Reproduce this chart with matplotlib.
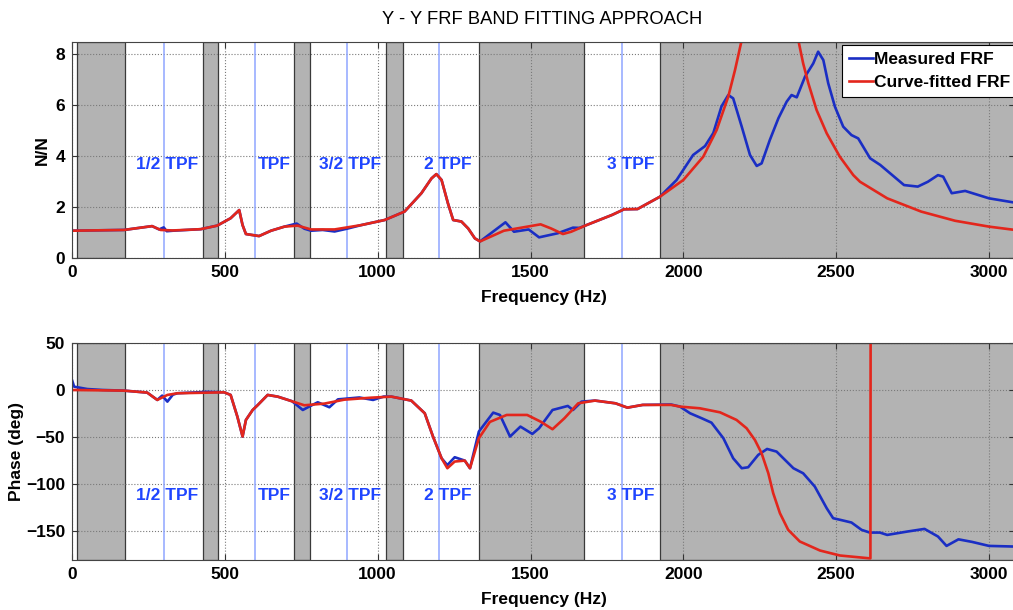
import numpy as np
import matplotlib
matplotlib.use("Agg")
import matplotlib.pyplot as plt

plt.rcParams['font.family'] = ['Liberation Sans', 'DejaVu Sans']

# ---- data ----
# magnitude (N/N)
mag_meas_f = [0, 170, 262, 285, 300, 310, 330, 421, 475, 519, 547, 558, 569, 612, 651, 695,
              735, 760, 782, 820, 859, 900, 946, 1023, 1088, 1143, 1176, 1192, 1209, 1230,
              1247, 1274, 1296, 1318, 1335, 1418, 1446, 1494, 1528, 1589, 1639, 1660, 1683,
              1767, 1806, 1850, 1923, 1978, 2032, 2071, 2098, 2125, 2147, 2163, 2191, 2218,
              2240, 2256, 2283, 2311, 2338, 2354, 2371, 2398, 2425, 2441, 2458, 2474, 2496,
              2523, 2550, 2572, 2611, 2644, 2722, 2767, 2800, 2833, 2850, 2878, 2922, 3000, 3085]
mag_meas = [1.07, 1.10, 1.25, 1.12, 1.20, 1.05, 1.07, 1.13, 1.27, 1.56, 1.88, 1.29, 0.94, 0.86,
            1.07, 1.23, 1.35, 1.15, 1.07, 1.10, 1.04, 1.15, 1.29, 1.49, 1.82, 2.54, 3.12, 3.29,
            3.06, 2.14, 1.49, 1.43, 1.16, 0.77, 0.65, 1.40, 1.03, 1.12, 0.81, 0.97, 1.19, 1.18,
            1.29, 1.69, 1.91, 1.92, 2.40, 3.06, 4.04, 4.39, 4.90, 5.95, 6.39, 6.26, 5.15, 4.04,
            3.61, 3.71, 4.63, 5.48, 6.13, 6.39, 6.30, 7.11, 7.63, 8.09, 7.76, 6.85, 5.93, 5.15,
            4.82, 4.69, 3.91, 3.65, 2.86, 2.80, 2.99, 3.25, 3.19, 2.54, 2.63, 2.34, 2.17]

mag_fit_f = [0, 170, 262, 290, 330, 421, 475, 519, 547, 558, 569, 612, 651, 695, 738, 782, 859,
             946, 1023, 1088, 1143, 1176, 1192, 1209, 1230, 1247, 1274, 1296, 1318, 1335, 1413,
             1533, 1567, 1606, 1633, 1683, 1767, 1806, 1850, 1923, 2000, 2065, 2109, 2147, 2169,
             2191, 2210, 2250, 2280, 2320, 2355, 2376, 2392, 2409, 2436, 2469, 2512, 2556, 2578,
             2667, 2778, 2889, 3000, 3085]
mag_fit = [1.07, 1.10, 1.25, 1.10, 1.08, 1.13, 1.27, 1.56, 1.88, 1.29, 0.94, 0.86, 1.07, 1.23,
           1.27, 1.12, 1.12, 1.29, 1.49, 1.82, 2.54, 3.12, 3.29, 3.06, 2.14, 1.49, 1.43, 1.16,
           0.77, 0.65, 1.07, 1.32, 1.16, 0.94, 1.03, 1.29, 1.69, 1.91, 1.92, 2.40, 3.06, 3.97,
           5.02, 6.33, 7.37, 8.55, 11.0, 20.0, 35.0, 20.0, 11.0, 8.55, 7.63, 6.85, 5.80, 4.89,
           3.97, 3.25, 2.99, 2.34, 1.82, 1.46, 1.23, 1.10]

# phase (deg)
ph_meas_f = [0, 7, 50, 100, 170, 246, 279, 295, 312, 330, 345, 440, 498, 519, 541, 558, 569,
             591, 607, 640, 673, 720, 755, 780, 804, 842, 870, 940, 985, 1020, 1045, 1110, 1154,
             1181, 1209, 1228, 1252, 1285, 1302, 1331, 1378, 1400, 1433, 1467, 1506, 1528, 1572,
             1622, 1639, 1667, 1711, 1778, 1817, 1867, 1960, 1989, 2022, 2060, 2092, 2131, 2163,
             2191, 2212, 2245, 2274, 2305, 2360, 2392, 2430, 2469, 2490, 2523, 2550, 2583, 2610,
             2643, 2667, 2733, 2789, 2833, 2861, 2900, 2944, 3000, 3085]
ph_meas = [10.6, 3.5, 1, 0, -0.7, -2.8, -10.6, -6, -12.4, -5, -3.5, -2, -2.5, -5.3, -28.4,
           -49.6, -31.9, -21.3, -16.3, -5.3, -7.1, -12, -21.3, -17, -13.1, -18.4, -10, -8,
           -10.6, -7, -7.1, -11.3, -24.8, -49.6, -72.7, -80, -71.6, -75.2, -83.3, -44.3, -24.1,
           -26.6, -49.6, -39, -46.8, -40.8, -21.3, -17, -21.3, -12.4, -11.3, -14.2, -18.8,
           -15.9, -15.5, -17.7, -24.8, -30.1, -34.8, -51.4, -72.7, -83.3, -82.3, -69.1, -62.8,
           -65.6, -83.3, -88.7, -102.8, -125.9, -136.5, -139, -141.1, -148.9, -151.8, -151.8,
           -154.3, -150.7, -147.9, -156, -166, -159, -161.7, -166, -166.7]

ph_fit_f = [0, 170, 246, 279, 312, 345, 498, 519, 541, 558, 569, 591, 607, 640, 673, 760, 826,
            891, 979, 1045, 1110, 1154, 1181, 1209, 1228, 1252, 1285, 1302, 1331, 1367, 1422,
            1489, 1533, 1572, 1611, 1656, 1711, 1778, 1817, 1867, 1960, 1989, 2054, 2120, 2174,
            2207, 2234, 2256, 2278, 2294, 2316, 2343, 2381, 2447, 2512, 2612, 2613, 3085]
ph_fit = [0, -0.7, -2.8, -10.6, -5.3, -3.5, -2.5, -5.3, -28.4, -49.6, -31.9, -21.3, -16.3,
          -5.3, -7.1, -16.3, -14.5, -10.3, -8.2, -7.1, -11.3, -24.8, -49.6, -72.7, -83.3, -76.2,
          -75.2, -83.3, -51.4, -34, -26.6, -26.6, -33.7, -41.8, -30.1, -14.2, -11.3, -14.2,
          -18.8, -15.9, -15.9, -17.7, -19.5, -23.8, -31.9, -40.8, -53.2, -67.4, -88.7, -109.9,
          -131.2, -148.9, -161.3, -170.9, -176.2, -179.3, 179, 175]

# fitting bands (Hz) and tooth-pass-frequency markers
bands = [(15, 173), (427, 477), (726, 778), (1028, 1083), (1331, 1676), (1922, 3200)]
tpf_lines = [300, 600, 900, 1200, 1800]
tpf_labels = ['1/2 TPF', 'TPF', '3/2 TPF', '2 TPF', '3 TPF']
tpf_label_x = [208, 608, 809, 1153, 1750]

BLUE = '#1a2ec4'
RED = '#e3261c'
LBLUE = '#8fa6ff'
TXTBLUE = '#1f45ff'

fig = plt.figure(figsize=(10.13, 6.10), dpi=100)
ax1 = fig.add_axes([72 / 1013, 1 - 258 / 610, 943 / 1013, 216 / 610])
ax2 = fig.add_axes([72 / 1013, 1 - 560 / 610, 943 / 1013, 217 / 610])


def style_axis(ax, label_y):
    for a, b in bands:
        ax.axvspan(a, b, facecolor='#b3b3b3', edgecolor='#3a3a3a', lw=0.9, zorder=1)
    for f in tpf_lines:
        ax.axvline(f, color=LBLUE, lw=1.1, zorder=1.6)
    for lbl, x in zip(tpf_labels, tpf_label_x):
        ax.text(x, label_y, lbl, color=TXTBLUE, fontsize=12.5, fontweight='bold',
                ha='left', va='center', zorder=3)
    ax.grid(True, linestyle=':', color='#7a7a7a', lw=0.8)
    ax.set_xlim(0, 3085)
    ax.set_xticks([0, 500, 1000, 1500, 2000, 2500, 3000])
    ax.tick_params(direction='in', length=4, labelsize=12.5, pad=5, top=True, right=True,
                   color='#333333')
    for t in ax.get_xticklabels() + ax.get_yticklabels():
        t.set_fontweight('bold')
    for s in ax.spines.values():
        s.set_color('#444444')
        s.set_linewidth(0.8)
    ax.set_xlabel('Frequency (Hz)', fontsize=12.5, fontweight='bold', labelpad=7)


# magnitude
ax1.plot(mag_meas_f, mag_meas, color=BLUE, lw=1.9, label='Measured FRF', zorder=2)
ax1.plot(mag_fit_f, mag_fit, color=RED, lw=1.9, label='Curve-fitted FRF', zorder=2.1)
ax1.set_ylim(0, 8.47)
ax1.set_yticks([0, 2, 4, 6, 8])
style_axis(ax1, 3.65)
ax1.set_ylabel('N/N', fontsize=12.5, fontweight='bold', labelpad=4)

leg = ax1.legend(loc='upper left', bbox_to_anchor=(842 / 1013, 1 - 45 / 610),
                 bbox_transform=fig.transFigure, borderaxespad=0, fancybox=False,
                 framealpha=1, edgecolor='black', handlelength=1.4, handletextpad=0.05,
                 borderpad=0.4, labelspacing=0.45, prop={'size': 12.5, 'weight': 'bold'})
leg.get_frame().set_linewidth(0.8)

# phase
ax2.plot(ph_meas_f, ph_meas, color=BLUE, lw=1.9, zorder=2)
ax2.plot(ph_fit_f, ph_fit, color=RED, lw=1.9, zorder=2.1)
ax2.set_ylim(-181, 50)
ax2.set_yticks([50, 0, -50, -100, -150])
style_axis(ax2, -112)
ax2.set_ylabel('Phase (deg)', fontsize=12.5, fontweight='bold', labelpad=1)

fig.text(542.5 / 1013, 1 - 20 / 610, 'Y - Y FRF BAND FITTING APPROACH', ha='center',
         va='center', fontsize=13.2)

fig.savefig('out.png', dpi=100)
